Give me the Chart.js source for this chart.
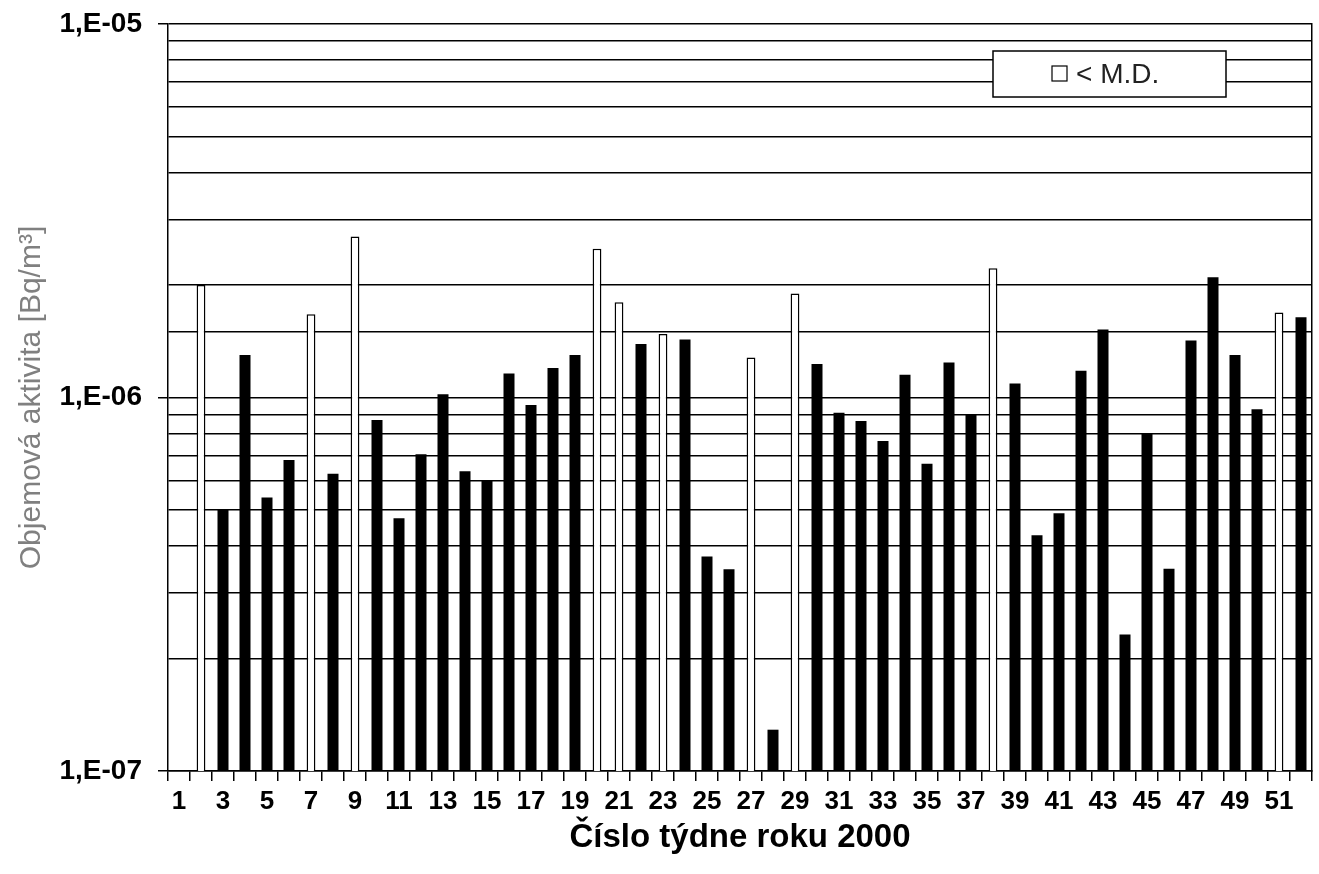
<!DOCTYPE html>
<html>
<head>
<meta charset="utf-8">
<script src="https://cdn.jsdelivr.net/npm/chart.js@4/dist/chart.umd.min.js"></script>
<style>
  html, body { margin: 0; padding: 0; background: #fff; }
</style>
</head>
<body>
<canvas id="chart1" width="1319" height="874"></canvas>
<script>
// week numbers of year 2000
const weeks = [];
for (let w = 1; w <= 52; w++) weeks.push(String(w));

// volume activity [Bq/m3], null = no value
const activity = [
  null, 2.0e-6, 5.0e-7, 1.3e-6, 5.4e-7, 6.8e-7, 1.67e-6, 6.25e-7, 2.7e-6, 8.7e-7,
  4.75e-7, 7.05e-7, 1.02e-6, 6.35e-7, 6.0e-7, 1.16e-6, 9.55e-7, 1.2e-6, 1.3e-6, 2.5e-6,
  1.8e-6, 1.39e-6, 1.48e-6, 1.43e-6, 3.75e-7, 3.47e-7, 1.28e-6, 1.29e-7, 1.9e-6, 1.23e-6,
  9.1e-7, 8.65e-7, 7.65e-7, 1.15e-6, 6.65e-7, 1.24e-6, 9.0e-7, 2.22e-6, 1.09e-6, 4.28e-7,
  4.9e-7, 1.18e-6, 1.52e-6, 2.32e-7, 8.0e-7, 3.48e-7, 1.42e-6, 2.1e-6, 1.3e-6, 9.3e-7,
  1.69e-6, 1.64e-6
];

// weeks where the value is below minimal detectable activity (< M.D.)
const belowMD = [2, 7, 9, 20, 21, 23, 27, 29, 38, 51];

const measured = activity.map((v, i) => belowMD.includes(i + 1) ? null : v);
const mdValues = activity.map((v, i) => belowMD.includes(i + 1) ? v : null);

const FONT = '"Liberation Sans", Arial, sans-serif';
Chart.defaults.font.family = FONT;

function isDecade(v) {
  const l = Math.log10(v);
  return Math.abs(l - Math.round(l)) < 1e-6;
}

const mdLegend = {
  id: 'mdLegend',
  afterDraw(chart) {
    const ctx = chart.ctx;
    const a = chart.chartArea;
    const x = a.right - 319, y = a.top + 27;
    ctx.save();
    ctx.fillStyle = '#fff';
    ctx.fillRect(x, y, 233, 46);
    ctx.strokeStyle = '#000';
    ctx.lineWidth = 1.5;
    ctx.strokeRect(x, y, 233, 46);
    ctx.lineWidth = 1.2;
    ctx.strokeRect(x + 59, y + 15, 15, 15);
    ctx.fillStyle = '#222';
    ctx.font = '28px ' + FONT;
    ctx.textBaseline = 'middle';
    ctx.fillText('< M.D.', x + 83, y + 24);
    ctx.restore();
  }
};

new Chart("chart1", {
  type: "bar",
  data: {
    labels: weeks,
    datasets: [{
      label: 'aktivita',
      data: measured,
      backgroundColor: '#000',
      barPercentage: 0.5,
      categoryPercentage: 1,
      grouped: false
    }, {
      label: '< M.D.',
      data: mdValues,
      backgroundColor: '#fff',
      borderColor: '#000',
      borderWidth: 1.5,
      barPercentage: 0.4,
      categoryPercentage: 1,
      grouped: false
    }]
  },
  options: {
    responsive: false,
    animation: false,
    layout: { padding: { left: 0, right: 7, top: 24, bottom: 0 } },
    plugins: {
      legend: { display: false },
      tooltip: { enabled: false }
    },
    scales: {
      x: {
        grid: { offset: true, drawOnChartArea: false, tickLength: 10, color: '#000', lineWidth: 1.5 },
        border: { color: '#000', width: 1.5 },
        ticks: {
          autoSkip: false, maxRotation: 0, padding: 5, color: '#000',
          font: { size: 26, weight: 'bold' },
          callback: function (v, i) { return i % 2 === 0 ? weeks[i] : ''; }
        },
        title: {
          display: true, text: 'Číslo týdne roku 2000', color: '#000',
          font: { size: 33, weight: 'bold' }, padding: { top: 0, bottom: 16 }
        },
        afterFit: function (s) { s.height = 103; s.paddingLeft = 0; s.paddingRight = 0; }
      },
      y: {
        type: 'logarithmic', min: 1e-7, max: 1e-5,
        grid: {
          color: '#000', lineWidth: 1.5, tickLength: 10,
          tickColor: ctx => (ctx.tick && isDecade(ctx.tick.value)) ? '#000' : 'rgba(0,0,0,0)'
        },
        border: { color: '#000', width: 1.5 },
        ticks: {
          autoSkip: false, padding: 16, color: '#000',
          font: { size: 28, weight: 'bold' },
          callback: function (v) {
            if (!isDecade(v)) return '';
            const e = Math.round(Math.log10(v));
            return '1,E-' + String(-e).padStart(2, '0');
          }
        },
        title: {
          display: true, text: 'Objemová aktivita [Bq/m³]', color: '#808080',
          font: { size: 30 }, padding: { top: 14, bottom: 0 }
        },
        afterFit: function (s) { s.width = 168; s.paddingTop = 0; s.paddingBottom = 0; }
      },
      y2: {
        position: 'right',
        grid: { drawOnChartArea: false, drawTicks: false },
        ticks: { display: false },
        border: { color: '#000', width: 1.5 },
        afterFit: function (s) { s.width = 0; s.paddingTop = 0; s.paddingBottom = 0; }
      }
    }
  },
  plugins: [mdLegend]
});
</script>
</body>
</html>
